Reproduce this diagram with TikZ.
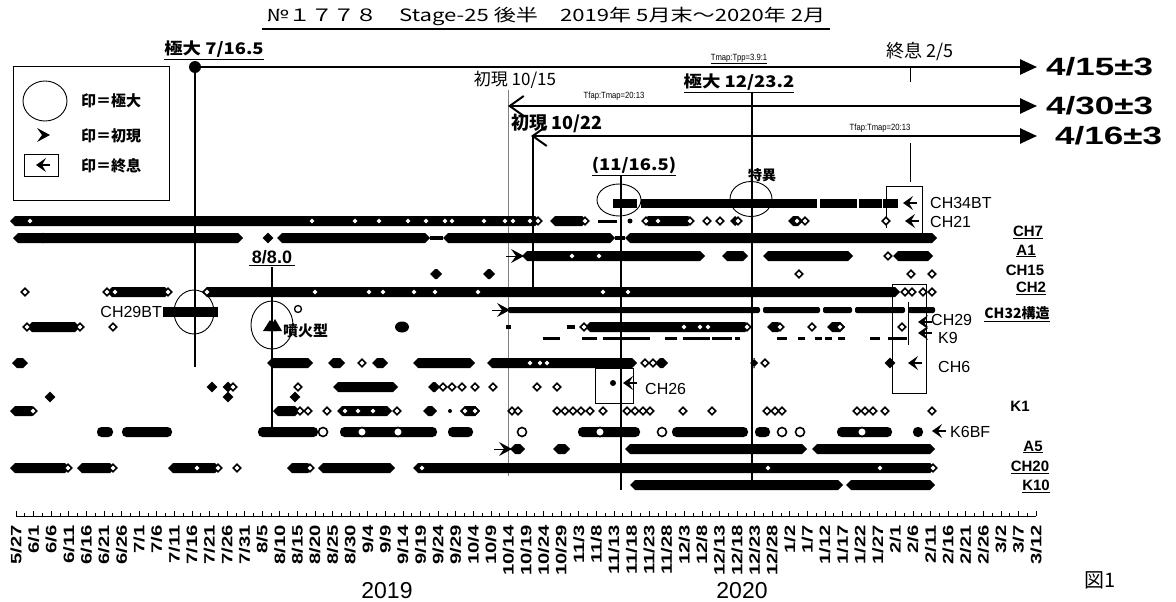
\documentclass[tikz,border=0pt]{standalone}
\usepackage{fontspec}
\usepackage{graphicx}
\setmainfont{Liberation Sans}
\newfontfamily\jp{Noto Sans CJK JP}
\usetikzlibrary{arrows.meta,shapes.geometric}

% chain of filled diamonds, circle chain, onset and stop marks
\newcommand{\dchain}[3]{\fill (#1,#3) -- (#1+5,#3-5) -- (#2-5,#3-5) -- (#2,#3) -- (#2-5,#3+5) -- (#1+5,#3+5) -- cycle;}
\newcommand{\cchain}[3]{\fill[rounded corners=4.5pt] (#1,#3-5) rectangle (#2,#3+5);}
\newcommand{\mkOnset}[2]{\fill (#1,#2) -- (#1-13,#2-7) -- (#1-8,#2) -- (#1-13,#2+7) -- cycle;
  \draw[line width=1pt] (#1-18,#2) -- (#1-8,#2);}
\newcommand{\mkStop}[2]{\fill (#1,#2) -- (#1+10,#2-7) -- (#1+6,#2) -- (#1+10,#2+7) -- cycle;
  \draw[line width=1.2pt] (#1+6,#2) -- (#1+14,#2);}

\tikzset{
  odia/.style={diamond, draw, fill=white, line width=1.6pt, inner sep=0pt, minimum size=8pt},
  fdia/.style={diamond, fill, inner sep=0pt, minimum size=11pt},
  ocir/.style={circle, draw, fill=white, line width=1.6pt, inner sep=0pt, minimum size=9pt},
  vline/.style={line width=2.6pt},
  hline/.style={line width=2.6pt},
  ring/.style={ellipse, draw, line width=0.9pt, inner sep=0pt},
  chlab/.style={anchor=west, inner sep=0pt, font=\fontsize{16}{16}\selectfont},
  rlab/.style={inner sep=0pt, font=\bfseries\fontsize{15}{15}\selectfont},
  datelab/.style={rotate=90, anchor=east, inner sep=0pt, font=\bfseries\fontsize{15}{15}\selectfont},
  endlab/.style={anchor=west, inner sep=0pt, font=\bfseries\fontsize{25}{25}\selectfont},
  toplab/.style={inner sep=0pt, font=\jp\bfseries\fontsize{16}{16}\selectfont},
  ratio/.style={inner sep=0pt, font=\fontsize{9}{9}\selectfont},
}

\begin{document}
\begin{tikzpicture}[x=1pt, y=-1pt]
        \useasboundingbox (0,0) rectangle (1176,602);

        % title
        \node [inner sep=0pt] (title) at (546,16) {\jp\fontsize{17}{17}\selectfont\scalebox{1.3}[1]{№１７７８　Stage-25 後半　2019年 5月末～2020年 2月}};
        \fill (262,28) rectangle (830,30.5);

        % legend
        \draw [line width=1pt] (13,67) rectangle (169,200);
        \node [ring, minimum width=44pt, minimum height=40pt] (lgmax) at (45,101) {};
        \node [toplab, anchor=west, font=\jp\bfseries\fontsize{15}{15}\selectfont] (lgmaxt) at (81,101) {印＝極大};
        \fill (50,135) -- (37,128) -- (42,135) -- (37,142) -- cycle;
        \node [toplab, anchor=west, font=\jp\bfseries\fontsize{15}{15}\selectfont] (lgont) at (81,136) {印＝初現};
        \draw [line width=0.8pt] (24,154) rectangle (58,176);
        \mkStop{36}{165}
        \node [toplab, anchor=west, font=\jp\bfseries\fontsize{15}{15}\selectfont] (lgstopt) at (81,166) {印＝終息};

        % maximum 7/16.5
        \node [toplab] (max1) at (214,50) {\underline{\scalebox{1.15}[1]{極大 7/16.5}}};
        \fill (195,67) circle (6);
        \draw [hline, -{Triangle[length=17pt,width=15pt]}] (195,67) -- (1037,67);
        \node [endlab] (e1) at (1046,67) {\scalebox{1.4}[1]{4/15±3}};
        \node [ratio] (r1) at (739,59) {\scalebox{0.85}[1]{\underline{Tmap:Tpp=3.9:1}}};
        \draw [vline] (195,67) -- (195,367);

        % end 2/5
        \node [toplab, font=\jp\fontsize{18}{18}\selectfont] (stop1) at (920,51) {終息 2/5};
        \draw [line width=1pt] (910,67) -- (910,82);

        % onset 10/15
        \node [inner sep=0pt, font=\jp\fontsize{17}{17}\selectfont] (on1) at (515,80) {初現 10/15};
        \draw [line width=0.5pt, gray] (508,90) -- (508,476);
        \draw [hline, {Straight Barb[length=14pt,width=20pt,line width=2pt]}-{Triangle[length=17pt,width=15pt]}] (508,106) -- (1037,106);
        \node [ratio] (r2) at (614,96) {\scalebox{0.85}[1]{Tfap:Tmap=20:13}};
        \node [endlab] (e2) at (1046,106) {\scalebox{1.4}[1]{4/30±3}};

        % maximum 12/23.2
        \node [toplab] (max2) at (739,83) {\underline{\scalebox{1.15}[1]{極大 12/23.2}}};
        \draw [vline] (752,92) -- (752,481);

        % onset 10/22
        \node [inner sep=0pt, font=\jp\bfseries\fontsize{18}{18}\selectfont] (on2) at (557,123) {初現 10/22};
        \draw [hline, {Straight Barb[length=14pt,width=20pt,line width=2pt]}-{Triangle[length=17pt,width=15pt]}] (531,136) -- (1037,136);
        \node [ratio] (r3) at (880,128) {\scalebox{0.85}[1]{Tfap:Tmap=20:13}};
        \node [endlab] (e3) at (1055,136) {\scalebox{1.4}[1]{4/16±3}};
        \draw [vline] (533,136) -- (533,287);
        \draw [line width=1pt] (910,143) -- (910,182);

        % (11/16.5) and the odd one
        \node [toplab] (max3) at (634,166) {\underline{\scalebox{1.15}[1]{(11/16.5)}}};
        \draw [vline] (621,175) -- (621,490);
        \node [ring, minimum width=44pt, minimum height=32pt] (c1) at (619,200) {};
        \node [toplab, font=\jp\bfseries\fontsize{14}{14}\selectfont] (odd) at (762,175) {特異};
        \node [ring, minimum width=42pt, minimum height=35pt] (c2) at (751,199) {};

        % 8/8.0
        \node [toplab, font=\bfseries\fontsize{18}{18}\selectfont] (max4) at (272,258) {\underline{\,8/8.0\,}};
        \draw [vline] (272,267) -- (272,433);
        \node [ring, minimum width=42pt, minimum height=48pt] (c3) at (272,325) {};
        \node [ring, minimum width=40pt, minimum height=44pt] (c4) at (194,312) {};

        % boxes round the end marks
        \draw [line width=0.7pt] (886,228) -- (886,186) -- (922,186) -- (922,238);
        \draw [line width=0.7pt] (892,284) rectangle (926,393);
        \draw [line width=1pt] (908,302) -- (908,345);
        \draw [line width=0.7pt] (595,368) rectangle (633,403);

        % CH34BT
        \foreach \a/\b in {613/637,641/817,820/857,859/882,883/898}
          \fill (\a,198.5) rectangle (\b,207.5);
        \mkStop{903}{203}
        \node [chlab] (n1) at (930,203) {CH34BT};

        % CH21
        \foreach \a/\b in {10/540,550/587,643/693,730/740,788/803}
          {\dchain{\a}{\b}{221}}
        \draw [line width=3pt] (598,221) -- (617,221);
        \fill (630,221) circle (2.5);
        \foreach \x in {30,312,355,379,408,426,445,452,484,505,513,530,538,585,646,658,690,707,720,738,797,805,886}
          \node [odia] at (\x,221) {};
        \mkStop{905}{221}
        \node [chlab] (n2) at (930,222) {CH21};

        % CH7
        \foreach \a/\b in {13/243,277/430,443/615,625/937}
          {\dchain{\a}{\b}{238}}
        \draw [line width=4pt] (430,238) -- (443,238) (615,238) -- (625,238);
        \node [fdia] at (268,238) {};
        \node [fdia] at (43,238) {};

        % A1
        \mkOnset{524}{256}
        \foreach \a/\b in {522/705,722/748,763/853,893/933}
          {\dchain{\a}{\b}{256}}
        \foreach \x in {572,599,888}
          \node [odia] at (\x,256) {};

        % CH15
        \foreach \a/\b in {430/442,483/495}
          {\dchain{\a}{\b}{274}}
        \foreach \x in {799,911,932}
          \node [odia] at (\x,274) {};

        % CH2
        \foreach \a/\b in {107/170,202/900}
          {\dchain{\a}{\b}{292}}
        \foreach \x in {25,107,115,168,207,315,369,383,414,435,478,603,628,905,912,923,932}
          \node [odia] at (\x,292) {};

        % CH32
        \foreach \a/\b in {508/760,763/820,823/852,855/905,908/935}
          \fill[rounded corners=2pt] (\a,307) rectangle (\b,313);
        \mkOnset{510}{310}

        % CH29BT
        \fill (163,307) rectangle (218,317);
        \node [chlab, anchor=east] (n3) at (162,312) {CH29BT};

        % CH29
        \foreach \a/\b in {27/80,585/750,767/783,827/845}
          {\dchain{\a}{\b}{327}}
        \foreach \x in {27,80,113,584,684,700,708,747,780,812,840,902}
          \node [odia] at (\x,327) {};
        \fill (263,331) -- (270,320) -- (277,331) -- cycle;
        \fill (268,331) -- (275,319) -- (282,331) -- cycle;
        \fill (402,327) ellipse (7 and 5.5);
        \fill (506,325) rectangle (511,329);
        \fill (567,325) rectangle (575,329);
        \node [ocir, minimum size=7pt, line width=1.3pt] at (298,309) {};
        \node [inner sep=0pt, anchor=west, font=\jp\bfseries\fontsize{15}{15}\selectfont] (n4) at (283,331) {噴火型};
        \mkStop{918}{322}
        \node [chlab] (n5) at (931,320) {CH29};

        % K9
        \foreach \a/\b in {543/560,582/597,603/650,665/677,683/710,712/732,735/740,777/787,798/805,815/822,825/832,838/845,870/880,888/907}
          \fill (\a,336.5) rectangle (\b,339.5);
        \mkStop{918}{333}
        \node [chlab] (n6) at (938,338) {K9};

        % CH6
        \foreach \a/\b in {12/28,267/313,328/345,372/388,413/475,487/637,655/668,750/758}
          {\dchain{\a}{\b}{363}}
        \foreach \x in {362,530,540,547,645,653,765}
          \node [odia] at (\x,363) {};
        \node [fdia] at (890,363) {};
        \mkStop{908}{363}
        \node [chlab] (n7) at (938,367) {CH6};

        % unnamed rows
        \foreach \a/\b in {333/398,428/440}
          {\dchain{\a}{\b}{387}}
        \foreach \x in {212,228}
          \node [fdia] at (\x,387) {};
        \foreach \x in {233,298,443,452,462,475,493,537,557}
          \node [odia] at (\x,387) {};
        \foreach \x in {50,228,295}
          \node [fdia] at (\x,397) {};

        % CH26
        \fill (613,383) circle (3);
        \mkStop{623}{383}
        \node [chlab] (n8) at (645,389) {CH26};

        % K1
        \foreach \a/\b in {10/37,273/300,337/392,423/437,460/480}
          {\dchain{\a}{\b}{411}}
        \fill (450,411) circle (2);
        \foreach \x in {33,300,308,327,345,358,373,397,465,475,512,518,557,565,573,581,590,603,627,635,643,650,683,712,767,775,782,857,865,873,885,932}
          \node [odia] at (\x,411) {};

        % K6BF
        \foreach \a/\b in {97/113,122/172,258/318,340/437,448/473,578/640,672/748,755/770,837/892,913/923}
          {\cchain{\a}{\b}{432}}
        \foreach \x in {323,362,398,522,600,662,782,800,862}
          \node [ocir] at (\x,432) {};
        \mkStop{932}{431}
        \node [chlab] (n9) at (950,432) {K6BF};

        % A5
        \mkOnset{512}{449}
        \foreach \a/\b in {510/525,553/570,625/807,812/935}
          {\dchain{\a}{\b}{449}}

        % CH20
        \foreach \a/\b in {10/70,77/115,168/220,287/313,318/395,413/935}
          {\dchain{\a}{\b}{468}}
        \foreach \x in {68,113,197,218,237,310,422,768,880,933}
          \node [odia] at (\x,468) {};

        % K10
        \foreach \a/\b in {630/843,846/935}
          {\dchain{\a}{\b}{485}}

        % row names on the right
        \node [rlab] (l1) at (1028,232) {\underline{CH7}};
        \node [rlab] (l2) at (1026,251) {\underline{A1}};
        \node [rlab] (l3) at (1025,270) {CH15};
        \node [rlab] (l4) at (1031,288) {\underline{CH2}};
        \node [rlab, font=\jp\bfseries\fontsize{14}{14}\selectfont] (l5) at (1017,314) {\underline{CH32構造}};
        \node [rlab] (l6) at (1020,406) {K1};
        \node [rlab] (l7) at (1033,447) {\underline{A5}};
        \node [rlab] (l8) at (1030,467) {\underline{CH20}};
        \node [rlab] (l9) at (1036,486) {\underline{K10}};

        % date axis
        \draw [line width=0.8pt] (16,516) -- (1036,516);
        \foreach \i in {0,...,58}
          \draw [line width=0.6pt] (16+17.586*\i,516) -- ++(0,-5);
        \foreach \i in {0,...,57}
          \draw [line width=0.6pt] (24.793+17.586*\i,516) -- ++(0,-3);
        \foreach \d [count=\i from 0] in {5/27,6/1,6/6,6/11,6/16,6/21,6/26,7/1,7/6,7/11,7/16,7/21,7/26,7/31,8/5,8/10,8/15,8/20,8/25,8/30,9/4,9/9,9/14,9/19,9/24,9/29,10/4,10/9,10/14,10/19,10/24,10/29,11/3,11/8,11/13,11/18,11/23,11/28,12/3,12/8,12/13,12/18,12/23,12/28,1/2,1/7,1/12,1/17,1/22,1/27,2/1,2/6,2/11,2/16,2/21,2/26,3/2,3/7,3/12}
          \node [datelab] (d\i) at (16+17.586*\i,525) {\scalebox{1.35}[1]{\d}};

        % years and figure number
        \node [inner sep=0pt, font=\fontsize{23}{23}\selectfont] (y1) at (387,591) {2019};
        \node [inner sep=0pt, font=\fontsize{23}{23}\selectfont] (y2) at (742,591) {2020};
        \node [inner sep=0pt, font=\jp\fontsize{20}{20}\selectfont] (fig) at (1100,580) {図1};

      \end{tikzpicture}
\end{document}
